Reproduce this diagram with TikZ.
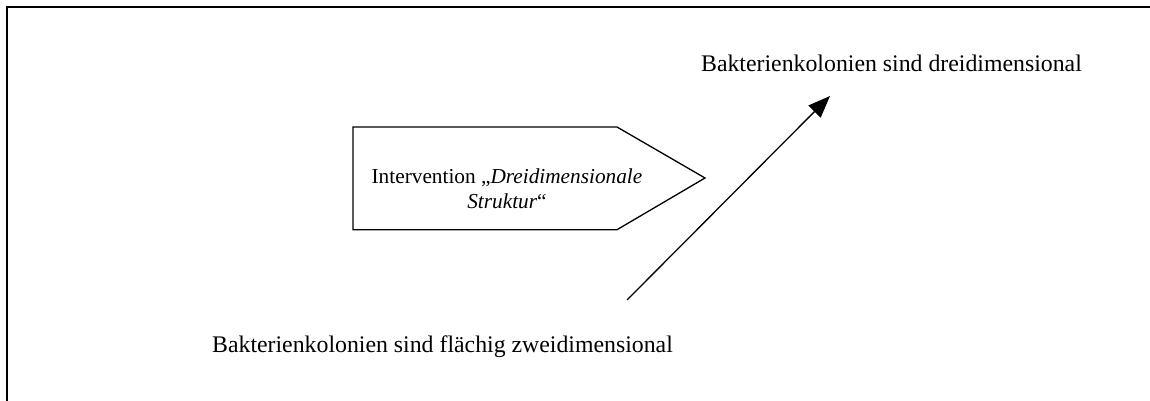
\documentclass[tikz,border=0pt]{standalone}
\usepackage{fontspec}
\setmainfont{Liberation Serif}
\usetikzlibrary{arrows.meta}

\begin{document}
\begin{tikzpicture}[x=1pt, y=-1pt,
  lbl/.style={font=\fontsize{23.8}{28}\selectfont, inner sep=0pt, anchor=base},
  boxtxt/.style={font=\fontsize{21.3}{25}\selectfont, align=center, inner sep=0pt}]
\useasboundingbox (0,0) rectangle (1150,401);
\draw[line width=2pt] (7,401) -- (7,7) -- (1150,7);
\draw[line width=1.3pt] (353,127) -- (617,127) -- (705,178) -- (617,229.7) -- (353,229.7) -- cycle;
\node[boxtxt] (interv) at (507,189) {Intervention „\textit{Dreidimensionale}\\\textit{Struktur}“};
\node[lbl] (flat) at (442.5,352) {Bakterienkolonien sind flächig zweidimensional};
\node[lbl] (three) at (891.5,72) {Bakterienkolonien sind dreidimensional};
\coordinate (from) at (627,300);
\coordinate (to) at (830,96);
\draw[line width=1.3pt, -{Triangle[length=22pt,width=17pt]}] (from) -- (to);
\end{tikzpicture}
\end{document}
